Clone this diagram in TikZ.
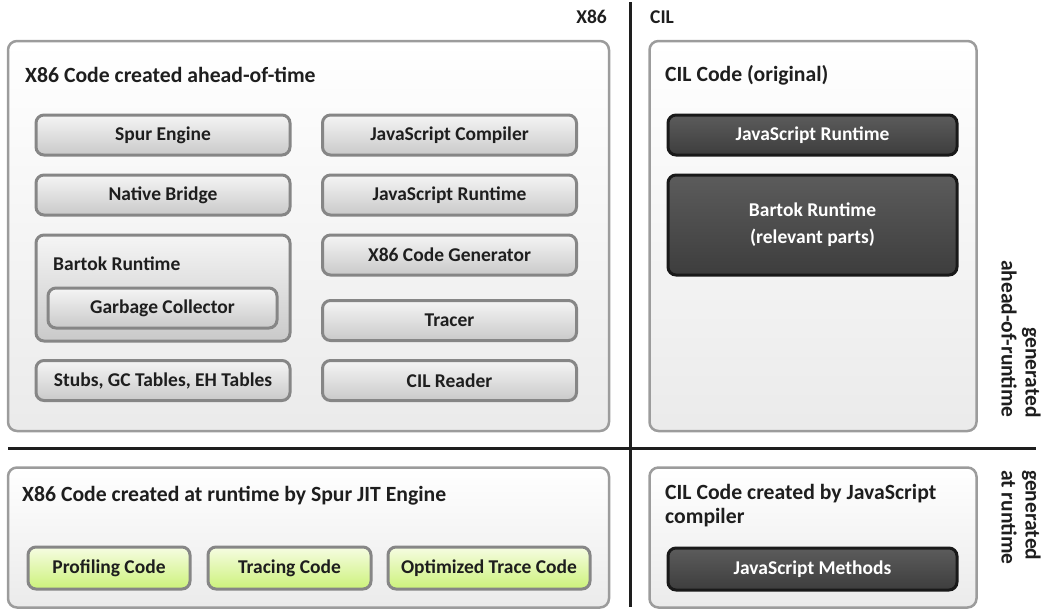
\documentclass[tikz,border=0pt]{standalone}
\usepackage{fontspec}
\setmainfont{Carlito}
\definecolor{ink}{HTML}{1E1E1E}
\definecolor{framegray}{HTML}{9C9C9C}
\definecolor{boxgray}{HTML}{868686}
\begin{document}
\begin{tikzpicture}[x=1pt, y=-1pt,
        font=\bfseries\fontsize{19.5}{24}\selectfont, text=ink,
        area/.style={draw=framegray, line width=2.5pt, rounded corners=9pt,
            top color=white, bottom color=black!8},
        lbox/.style={draw=boxgray, line width=3pt, rounded corners=8pt,
            top color=black!4, bottom color=black!21, minimum height=40pt},
        dbox/.style={draw=black!90, line width=3pt, rounded corners=8pt,
            top color=black!64, bottom color=black!76, text=white, minimum width=289pt},
        gbox/.style={draw=boxgray, line width=3pt, rounded corners=8pt,
            top color={rgb,255:red,246;green,252;blue,226}, bottom color={rgb,255:red,204;green,242;blue,122},
            minimum height=42pt},
        title/.style={anchor=west, inner sep=0pt, font=\bfseries\fontsize{21.7}{24}\selectfont},
        side/.style={rotate=-90, inner sep=0pt, font=\bfseries\fontsize{21.5}{24}\selectfont},
        divider/.style={draw=ink, line width=3pt}]
    \useasboundingbox (0,0) rectangle (1042,611);

    % outer areas
    \node[area, minimum width=601pt, minimum height=390pt] (X86aot) at (308.5,236) {};
    \node[area, minimum width=327pt, minimum height=390pt] (CILorig) at (813,236) {};
    \node[area, minimum width=601pt, minimum height=140pt] (X86jit) at (308.5,537.5) {};
    \node[area, minimum width=327pt, minimum height=140pt] (CILjs) at (813,537.5) {};

    % dividers and headers
    \coordinate (vtop) at (630,2);
    \coordinate (vbot) at (630,607);
    \coordinate (hleft) at (8,448);
    \coordinate (hright) at (1036,448);
    \draw[divider] (vtop) -- (vbot);
    \draw[divider] (hleft) -- (hright);
    \node[anchor=east, inner sep=0pt] (hX86) at (607,17) {X86};
    \node[anchor=west, inner sep=0pt] (hCIL) at (650,17) {CIL};

    % X86 code ahead-of-time
    \node[title] (tX86aot) at (25,75) {X86 Code created ahead-of-time};
    \begin{scope}[every node/.style={lbox, minimum width=254pt}]
        \node (spur) at (163,135) {Spur Engine};
        \node (native) at (163,195) {Native Bridge};
        \node[minimum height=106pt] (bartok) at (163,288) {};
        \node (stubs) at (163,380.5) {Stubs, GC Tables, EH Tables};
        \node (jscomp) at (449.5,135) {JavaScript Compiler};
        \node (jsrt) at (449.5,195) {JavaScript Runtime};
        \node (codegen) at (449.5,255) {X86 Code Generator};
        \node (tracer) at (449.5,320.5) {Tracer};
        \node (cilreader) at (449.5,380.5) {CIL Reader};
        \node[minimum width=229pt] (gc) at (162.5,308) {Garbage Collector};
    \end{scope}
    \node[anchor=west, inner sep=0pt] (tbartok) at (53,264) {Bartok Runtime};

    % CIL code original
    \node[title] (tCILorig) at (665,75) {CIL Code (original)};
    \node[dbox, minimum height=40pt] (cjsrt) at (812.5,135) {JavaScript Runtime};
    \node[dbox, minimum height=100pt, align=center, font=\bfseries\fontsize{19.5}{27}\selectfont] (cbartok) at (812.5,225) {Bartok Runtime\\(relevant parts)};

    % X86 code at runtime
    \node[title] (tX86jit) at (22,496) {X86 Code created at runtime by Spur JIT Engine};
    \node[gbox, minimum width=162pt] (profiling) at (109,568) {Profiling Code};
    \node[gbox, minimum width=163pt] (tracing) at (289.5,568) {Tracing Code};
    \node[gbox, minimum width=202pt] (optimized) at (489,568) {Optimized Trace Code};

    % CIL code at runtime
    \node[title, anchor=north west, align=left] (tCILjs) at (665,484) {CIL Code created by JavaScript\\compiler};
    \node[dbox, minimum height=42pt] (jsmethods) at (812.5,569) {JavaScript Methods};

    % side labels
    \node[side, anchor=north east, align=right] (saot) at (1041,418) {generated\\ahead-of-runtime};
    \node[side, anchor=north west, align=left] (sjit) at (1041,470) {generated\\at runtime};
\end{tikzpicture}
\end{document}
